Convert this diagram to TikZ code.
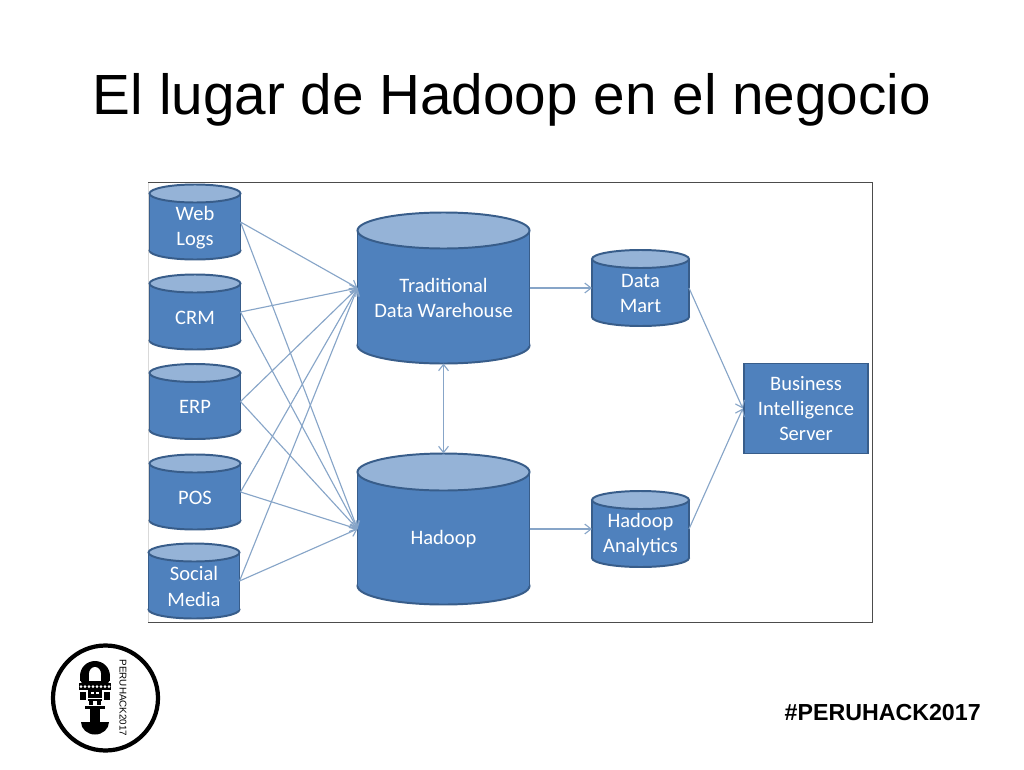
\documentclass[tikz,border=0pt]{standalone}
\usepackage{fontspec}
\setmainfont{Liberation Sans}
\newfontfamily\boxfont{Carlito}
\usetikzlibrary{arrows.meta,positioning,calc}
\definecolor{dbblue}{RGB}{79,129,189}
\definecolor{dbtop}{RGB}{149,179,215}
\definecolor{dbline}{RGB}{56,93,138}
\definecolor{linkblue}{RGB}{135,165,200}
\tikzset{
  dbedge/.style={draw=dbline, line width=1.4pt},
  dblabel/.style={text=white, align=center, inner sep=0pt, font=\boxfont\fontsize{14.6}{18}\selectfont},
  link/.style={draw=linkblue, line width=0.8pt, -{Straight Barb[length=4.5pt,width=7pt]}},
  linkboth/.style={draw=linkblue, line width=0.8pt, {Straight Barb[length=4.5pt,width=7pt]}-{Straight Barb[length=4.5pt,width=7pt]}},
}
% name, centre x, centre y, half width, half height, end radius, text
\newcommand{\dbdrum}[7]{%
  \filldraw[dbedge, fill=dbblue] ({#2},{#3+#5-#6}) ellipse ({#4} and {#6});
  \fill[dbblue] ({#2-#4},{#3-#5+#6}) rectangle ({#2+#4},{#3+#5-#6});
  \draw[dbedge] ({#2-#4},{#3-#5+#6}) -- ({#2-#4},{#3+#5-#6});
  \draw[dbedge] ({#2+#4},{#3-#5+#6}) -- ({#2+#4},{#3+#5-#6});
  \filldraw[dbedge, fill=dbtop] ({#2},{#3-#5+#6}) ellipse ({#4} and {#6});
  \node[inner sep=0pt, outer sep=0pt, minimum width=2*#4*0.025cm, minimum height=2*#5*0.025cm] (#1) at ({#2},{#3}) {};
  \node[dblabel] (#1-text) at ({#2},{#3+#6/2+1}) {#7};
}
\begin{document}
\begin{tikzpicture}[x=0.025cm, y=-0.025cm]
        \useasboundingbox (0,0) rectangle (1024,769);
        \fill[white] (0,0) rectangle (1024,769);

        % title
        \node[font=\fontsize{40.3}{44}\selectfont] (title) at (512,100) {El lugar de Hadoop en el negocio};

        % frame of the image
        \draw[gray!30, line width=0.6pt] (148,182) -- (148,622);
        \draw[black!70, line width=0.7pt] (148,622) -- (872,622) -- (872,182) -- (148,182);

        % sources
        \dbdrum{web}{195}{222}{45.5}{37.5}{9}{Web\\Logs}
        \dbdrum{crm}{195}{312}{45.5}{37.5}{9}{CRM}
        \dbdrum{erp}{195}{401.5}{45.5}{37.5}{9}{ERP}
        \dbdrum{pos}{195}{492}{45.5}{37.5}{9}{POS}
        \dbdrum{social}{194}{581}{45.5}{37.5}{9}{Social\\Media}

        % warehouse and hadoop
        \dbdrum{dwh}{443.5}{288}{86}{75.5}{18}{Traditional\\Data Warehouse}
        \dbdrum{hadoop}{443.5}{529}{86}{75.5}{18.5}{Hadoop}

        % marts
        \dbdrum{mart}{640.5}{288}{48.5}{38}{9}{Data\\Mart}
        \dbdrum{analytics}{640.5}{529}{48.5}{38}{9}{Hadoop\\Analytics}

        % BI server
        \node[dbedge, fill=dbblue, dblabel, minimum width=88.5pt, minimum height=64pt] (bi) at (806,408.5)
          {Business\\Intelligence\\Server};

        % sources -> dwh, hadoop
        \foreach \src in {web,crm,erp,pos,social} {
          \draw[link] (\src.east) -- (dwh.west);
          \draw[link] (\src.east) -- (hadoop.west);
        }

        % dwh <-> hadoop
        \draw[linkboth] (dwh.south) -- (hadoop.north);

        % right part
        \draw[link] (dwh.east) -- (mart.west);
        \draw[link] (hadoop.east) -- (analytics.west);
        \draw[link] (mart.east) -- (bi.west);
        \draw[link] (analytics.east) -- (bi.west);

        % logo
        \draw[black, line width=3pt] (105.5,698) circle (52.5);
        % arch
        \fill[black] (95,676) circle (15);
        \fill[black] (80,676) rectangle (110,681);
        \fill[white] (95,674) ellipse (6 and 7);
        \fill[white] (89,674) rectangle (101,681);
        % crown
        \fill[black] (79,683) rectangle (111,690);
        \foreach \dx in {81,85,...,109} {
          \fill[white] (\dx,685) -- (\dx+1.5,686.5) -- (\dx,688) -- (\dx-1.5,686.5) -- cycle;
        }
        % face and body
        \fill[black] (88,690) rectangle (102,698);
        \fill[black] (80,692) rectangle (86,700);
        \fill[black] (104,692) rectangle (110,700);
        \fill[white] (91,692) rectangle (94,694);
        \fill[white] (96,692) rectangle (99,694);
        \fill[black] (88,699) rectangle (102,701);
        \fill[black] (89,701) rectangle (93,705);
        \fill[black] (97,701) rectangle (101,705);
        % handle and blade
        \fill[black] (95,722) ellipse (14 and 12.5);
        \fill[white] (80,709) rectangle (110,722);
        \fill[black] (85,706) rectangle (105,708.5);
        \fill[black] (90,708.5) rectangle (100,722);
        \node[rotate=-90, font=\fontsize{7}{8}\selectfont] (logotext) at (123,698) {PERUHACK2017};

        % hashtag
        \node[font=\bfseries\fontsize{16.5}{20}\selectfont, anchor=east, inner sep=0pt] (tag) at (981,713) {\#PERUHACK2017};

    \end{tikzpicture}
\end{document}
